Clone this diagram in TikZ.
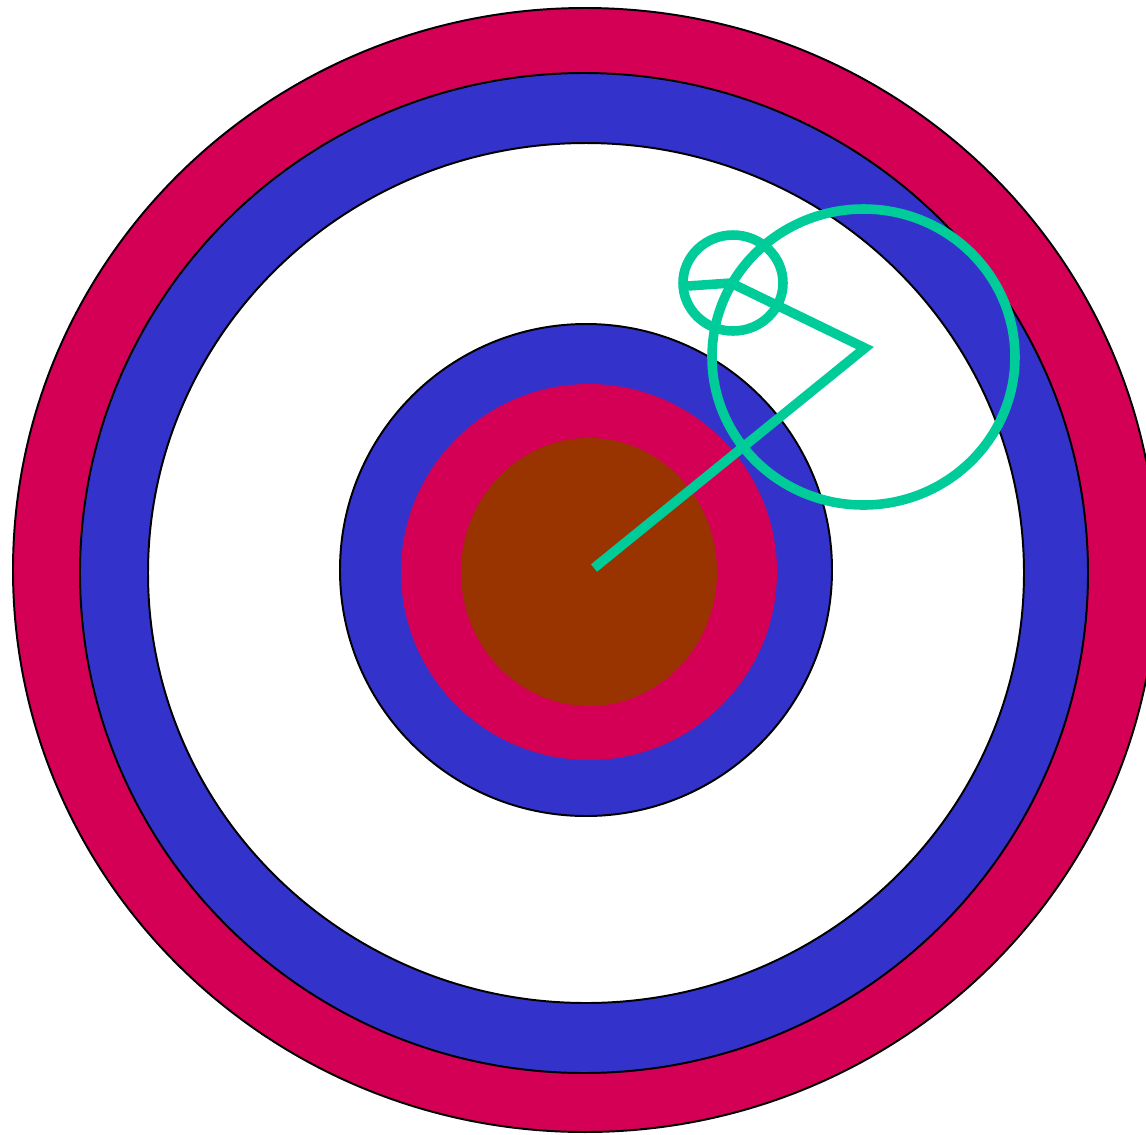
\documentclass[tikz,border=0pt]{standalone}
\usepackage{tikz}
\definecolor{ringred}{RGB}{212,0,85}
\definecolor{ringblue}{RGB}{51,51,204}
\definecolor{corebrown}{RGB}{153,51,0}
\definecolor{armgreen}{RGB}{0,204,153}

\begin{document}
\begin{tikzpicture}[x=0.025cm, y=-0.025cm,
  ring/.style={draw=black, line width=1.4pt},
  arm/.style={armgreen, line width=6.8pt}]
\clip (0,0) rectangle (1146,1134);
\fill[white] (0,0) rectangle (1146,1134);
\draw[ring, fill=ringred] (585,570) ellipse [x radius=572, y radius=562];
\draw[ring, fill=ringblue] (584,573) ellipse [x radius=504, y radius=500];
\draw[ring, fill=white] (586,573) ellipse [x radius=438, y radius=430];
\draw[ring, fill=ringblue] (586,570) ellipse [x radius=246, y radius=246];
\fill[ringred] (589,572) ellipse [x radius=188, y radius=188];
\fill[corebrown] (589,572) ellipse [x radius=128, y radius=134];
\coordinate (hub) at (594,568);
\coordinate (elbow) at (865,348);
\coordinate (wrist) at (731,283);
\coordinate (tip) at (688,286);
\draw[arm] (hub) -- (elbow) -- (wrist) -- (tip);
\draw[arm] (863.5,357) ellipse [x radius=151.5, y radius=148];
\draw[arm] (733,283) ellipse [x radius=50, y radius=48];
\end{tikzpicture}
\end{document}
